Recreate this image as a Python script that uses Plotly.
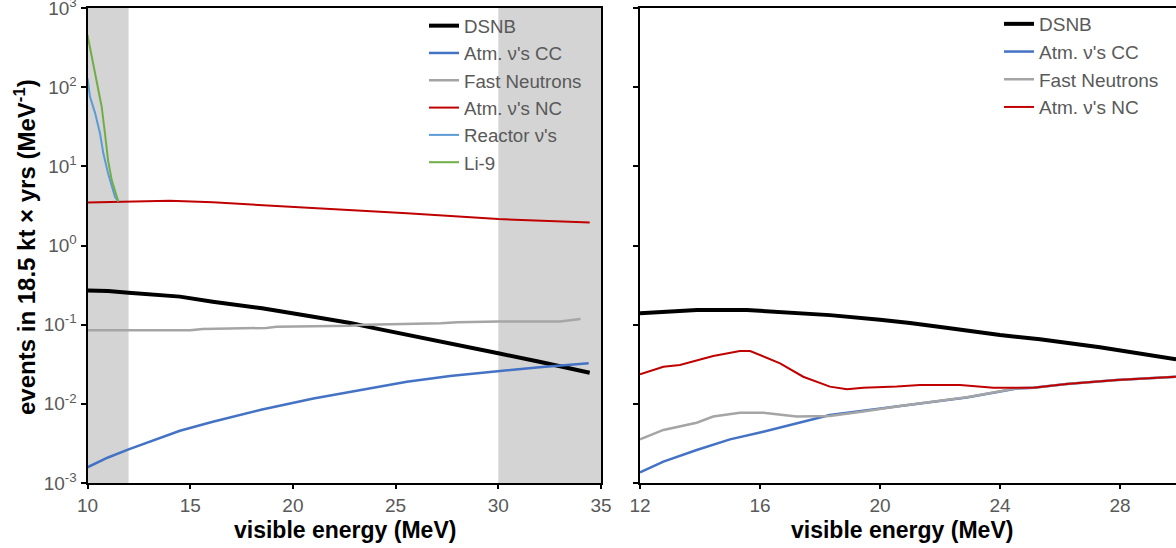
import plotly.graph_objects as go

# ---------------- data ----------------
# Left panel
dsnb_l_e = [10, 11, 12, 14.5, 16.1, 18.5, 21, 22.8, 23.9, 25.55, 27.65, 30, 32, 34.45]
dsnb_l_v = [0.27, 0.266, 0.253, 0.226, 0.195, 0.161, 0.126, 0.105, 0.091, 0.074, 0.057, 0.0435, 0.034, 0.0247]

cc_l_e = [10, 11, 12, 14.5, 16.1, 18.5, 21, 22.5, 25.55, 27.65, 30, 32, 34.4]
cc_l_v = [0.00158, 0.0021, 0.00266, 0.00457, 0.00594, 0.0085, 0.0117, 0.0137, 0.019, 0.0225, 0.026, 0.029, 0.0325]

fn_l_e = [10, 15, 15.6, 18.7, 19.2, 22.8, 23.5, 25.5, 27.2, 28, 30, 33, 34]
fn_l_v = [0.085, 0.085, 0.088, 0.091, 0.094, 0.097, 0.100, 0.102, 0.104, 0.107, 0.110, 0.110, 0.118]

nc_l_e = [10, 12, 14, 16.1, 18.5, 21, 22.5, 25.55, 30, 34.45]
nc_l_v = [3.5, 3.6, 3.68, 3.51, 3.25, 3.0, 2.82, 2.55, 2.16, 1.95]

reac_e = [10, 10.12, 10.37, 10.61, 10.77, 11.0, 11.34, 11.5]
reac_v = [129, 76, 47, 26, 14.6, 8.2, 4.1, 3.6]

li9_e = [10, 10.28, 10.53, 10.69, 10.85, 11.0, 11.18, 11.5]
li9_v = [456, 200, 101, 56.6, 26, 12, 6.7, 3.6]

# Right panel
dsnb_r_e = [12, 12.78, 13.9, 15.56, 16.67, 18.33, 20, 21, 22.33, 24, 25.33, 27.33, 29.87]
dsnb_r_v = [0.139, 0.146, 0.153, 0.153, 0.143, 0.132, 0.115, 0.105, 0.090, 0.074, 0.0653, 0.0518, 0.0365]

cc_r_e = [12, 12.78, 13.89, 15, 16.11, 17.22, 18.33, 19.44, 20.67, 22.89, 24.56, 25.11, 26.22, 27.89, 29.87]
cc_r_v = [0.00136, 0.00186, 0.00261, 0.00356, 0.00445, 0.00568, 0.00723, 0.0082, 0.0094, 0.012, 0.0156, 0.016, 0.0178, 0.020, 0.022]

fn_r_e = [12, 12.78, 13.89, 14.44, 15.33, 16.11, 17.22, 18.33, 19.44, 20.67, 22.89, 24.56, 25.11, 26.22, 27.89, 29.87]
fn_r_v = [0.00356, 0.00468, 0.00578, 0.0069, 0.0077, 0.0077, 0.0069, 0.00703, 0.0080, 0.0094, 0.0121, 0.0157, 0.016, 0.0178, 0.020, 0.022]

nc_r_e = [12, 12.78, 13.33, 14.44, 15.33, 15.67, 16.67, 17.44, 18.33, 18.9, 19.44, 20.56, 21.33, 22.67, 23.78, 25.11, 26.22, 27.89, 29.87]
nc_r_v = [0.0236, 0.0294, 0.0309, 0.0402, 0.0465, 0.0465, 0.0325, 0.022, 0.0165, 0.0153, 0.016, 0.0165, 0.0173, 0.0173, 0.016, 0.016, 0.0178, 0.020, 0.022]

shade_ranges = [(10, 12), (30, 35)]

left_xticks = [10, 15, 20, 25, 30, 35]
right_xticks = [12, 16, 20, 24, 28]
y_tickvals = [1e-3, 1e-2, 1e-1, 1e0, 1e1, 1e2, 1e3]
y_ticktext = ["10<sup>-3</sup>", "10<sup>-2</sup>", "10<sup>-1</sup>", "10<sup>0</sup>",
              "10<sup>1</sup>", "10<sup>2</sup>", "10<sup>3</sup>"]

# ---------------- styles ----------------
C_DSNB = "#000000"
C_CC = "#4472C4"
C_FN = "#A5A5A5"
C_NC = "#C00000"
C_REAC = "#5B9BD5"
C_LI9 = "#70AD47"
FONT = "Liberation Sans, Arial, Helvetica, sans-serif"
TXT = "#595959"

W, H = 1176, 548
L_LEFT, L_RIGHT = 87.5, 601.0
R_LEFT = 640.0
TOP, BOT = 8.0, 483.0

fig = go.Figure()

def add(x, y, name, color, width, xa, ya, legend):
    fig.add_trace(go.Scatter(x=x, y=y, name=name, mode="lines",
                             line=dict(color=color, width=width),
                             xaxis=xa, yaxis=ya, legend=legend))

add(dsnb_l_e, dsnb_l_v, "DSNB", C_DSNB, 4, "x", "y", "legend")
add(cc_l_e, cc_l_v, "Atm. ν's CC", C_CC, 2.5, "x", "y", "legend")
add(fn_l_e, fn_l_v, "Fast Neutrons", C_FN, 2.5, "x", "y", "legend")
add(nc_l_e, nc_l_v, "Atm. ν's NC", C_NC, 2, "x", "y", "legend")
add(reac_e, reac_v, "Reactor ν's", C_REAC, 2, "x", "y", "legend")
add(li9_e, li9_v, "Li-9", C_LI9, 2, "x", "y", "legend")

add(dsnb_r_e, dsnb_r_v, "DSNB", C_DSNB, 4, "x2", "y2", "legend2")
add(cc_r_e, cc_r_v, "Atm. ν's CC", C_CC, 2.5, "x2", "y2", "legend2")
add(fn_r_e, fn_r_v, "Fast Neutrons", C_FN, 2.5, "x2", "y2", "legend2")
add(nc_r_e, nc_r_v, "Atm. ν's NC", C_NC, 2, "x2", "y2", "legend2")

for a, b in shade_ranges:
    fig.add_shape(type="rect", xref="x", yref="y domain", x0=a, x1=b, y0=0, y1=1,
                  fillcolor="#D4D4D4", line_width=0, layer="below")

xl_dom = [L_LEFT / W, L_RIGHT / W]
xr_dom = [R_LEFT / W, 1.0]
xr_max = 12 + (W - R_LEFT) / 30.0

tickfont = dict(family=FONT, size=19, color=TXT)
common_x = dict(showgrid=False, zeroline=False, showline=True, linecolor="black", linewidth=1.5,
                ticks="outside", ticklen=4, tickwidth=1.5, tickcolor="black", tickfont=tickfont,
                automargin=False, ticklabeloverflow="allow")
common_y = dict(type="log", range=[-3, 3], showgrid=False, zeroline=False, showline=True,
                linecolor="black", linewidth=2, ticks="outside", ticklen=5, tickwidth=1.5,
                tickcolor="black", tickvals=y_tickvals, tickfont=tickfont, automargin=False,
                ticklabeloverflow="allow")
overlay = dict(showline=False, showgrid=False, zeroline=False, ticks="inside",
               tickwidth=1.5, tickcolor="black", showticklabels=False, automargin=False)

fig.update_layout(
    width=W, height=H, margin=dict(l=0, r=0, t=TOP, b=H - BOT, autoexpand=False),
    paper_bgcolor="white", plot_bgcolor="rgba(0,0,0,0)",
    font=dict(family=FONT, color=TXT),
    xaxis=dict(domain=xl_dom, range=[10, 35], tickvals=left_xticks, mirror=True, anchor="y", **common_x),
    yaxis=dict(domain=[0, 1], ticktext=y_ticktext, mirror=True, anchor="x", **common_y),
    xaxis2=dict(domain=xr_dom, range=[12, xr_max], tickvals=right_xticks, mirror=True, anchor="y2", **common_x),
    yaxis2=dict(domain=[0, 1], showticklabels=False, anchor="x2", **common_y),
    # overlay axes giving the crossing ("inside") half of the tick marks
    xaxis3=dict(overlaying="x", anchor="y", side="bottom", range=[10, 35], tickvals=left_xticks,
                ticklen=6, **overlay),
    yaxis3=dict(overlaying="y", anchor="x", side="left", type="log", range=[-3, 3], tickvals=y_tickvals,
                ticklen=5, **overlay),
    xaxis4=dict(overlaying="x2", anchor="y2", side="bottom", range=[12, xr_max], tickvals=right_xticks,
                ticklen=6, **overlay),
    yaxis4=dict(overlaying="y2", anchor="x2", side="left", type="log", range=[-3, 3], tickvals=y_tickvals,
                ticklen=5, **overlay),
    legend=dict(x=424 / W, xanchor="left", y=1.0 + 1 / (BOT - TOP), yanchor="top",
                bgcolor="rgba(0,0,0,0)", font=dict(family=FONT, size=18.7, color=TXT),
                itemwidth=30, tracegroupgap=0),
    legend2=dict(x=999 / W, xanchor="left", y=1.0 + 3 / (BOT - TOP), yanchor="top",
                 bgcolor="rgba(0,0,0,0)", font=dict(family=FONT, size=19, color=TXT),
                 itemwidth=30, tracegroupgap=0),
    showlegend=True,
)

def py(p):
    return (BOT - p) / (BOT - TOP)

fig.add_annotation(text="<b>visible energy (MeV)</b>", xref="paper", yref="paper",
                   x=345 / W, y=py(530), xanchor="center", yanchor="middle", showarrow=False,
                   font=dict(family=FONT, size=23, color="black"))
fig.add_annotation(text="<b>visible energy (MeV)</b>", xref="paper", yref="paper",
                   x=902 / W, y=py(530), xanchor="center", yanchor="middle", showarrow=False,
                   font=dict(family=FONT, size=23, color="black"))
fig.add_annotation(text="<b>events in 18.5 kt × yrs (MeV<sup>-1</sup>)</b>", xref="paper", yref="paper",
                   x=25 / W, y=py(247), xanchor="center", yanchor="middle", showarrow=False, textangle=-90,
                   font=dict(family=FONT, size=24, color="black"))

fig.write_html("out.html")
